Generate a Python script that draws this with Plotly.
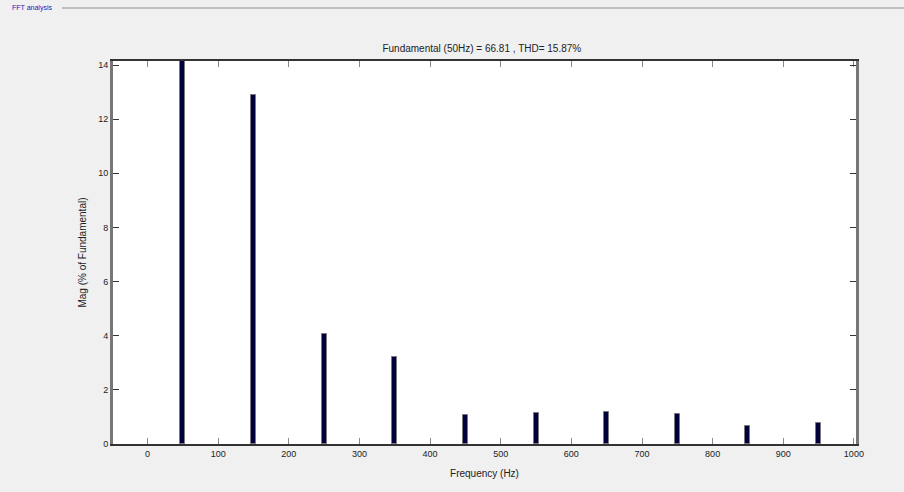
import plotly.graph_objects as go

freqs = [50, 150, 250, 350, 450, 550, 650, 750, 850, 950]
mags = [100.0, 12.9, 4.06, 3.2, 1.07, 1.14, 1.18, 1.1, 0.67, 0.78]
x_ticks = [0, 100, 200, 300, 400, 500, 600, 700, 800, 900, 1000]
y_ticks = [0, 2, 4, 6, 8, 10, 12, 14]

fig = go.Figure()
fig.add_trace(go.Bar(
    x=freqs, y=mags, width=7,
    marker=dict(color="#00003c", line=dict(color="#7a7a7a", width=1)),
    showlegend=False,
))

font = dict(family="Liberation Sans Narrow, Arial Narrow, Liberation Sans, Arial", size=10, color="#222222")

fig.update_layout(
    width=904, height=492,
    margin=dict(l=113, r=48, t=61, b=48),
    paper_bgcolor="#f0f0f0",
    plot_bgcolor="#ffffff",
    font=font,
    title=dict(text="Fundamental (50Hz) = 66.81 , THD= 15.87%", x=0.533, xanchor="center",
               y=1 - 48 / 492, yanchor="middle", font=dict(size=10, color="#222222")),
    xaxis=dict(range=[-49, 1003], tickvals=x_ticks, ticks="inside", ticklen=6, tickcolor="#888888",
               showline=True, linecolor="#333333", linewidth=2, mirror="allticks",
               showgrid=False, zeroline=False,
               title=dict(text="Frequency (Hz)", standoff=12, font=dict(size=10)),
               tickfont=dict(size=9)),
    yaxis=dict(range=[0, 14.15], tickvals=y_ticks, ticks="inside", ticklen=6, tickcolor="#333333",
               showline=True, linecolor="#777777", linewidth=3, mirror="allticks",
               showgrid=False, zeroline=False,
               title=dict(text="Mag (% of Fundamental)", standoff=10, font=dict(size=10)),
               tickfont=dict(size=9)),
    bargap=0,
)

fig.add_shape(type="line", xref="paper", yref="paper",
              x0=(62 - 113) / 743, x1=(904 - 113) / 743,
              y0=1 + (61 - 8) / 383, y1=1 + (61 - 8) / 383,
              line=dict(color="#b0b0b0", width=1.5))
fig.add_annotation(text="FFT analysis", xref="paper", yref="paper",
                   x=(10 - 113) / 743, y=1 + (61 - 8) / 383, xanchor="left", yanchor="middle",
                   showarrow=False, font=dict(size=7, color="#2020c0"))

fig.write_html("out.html")
